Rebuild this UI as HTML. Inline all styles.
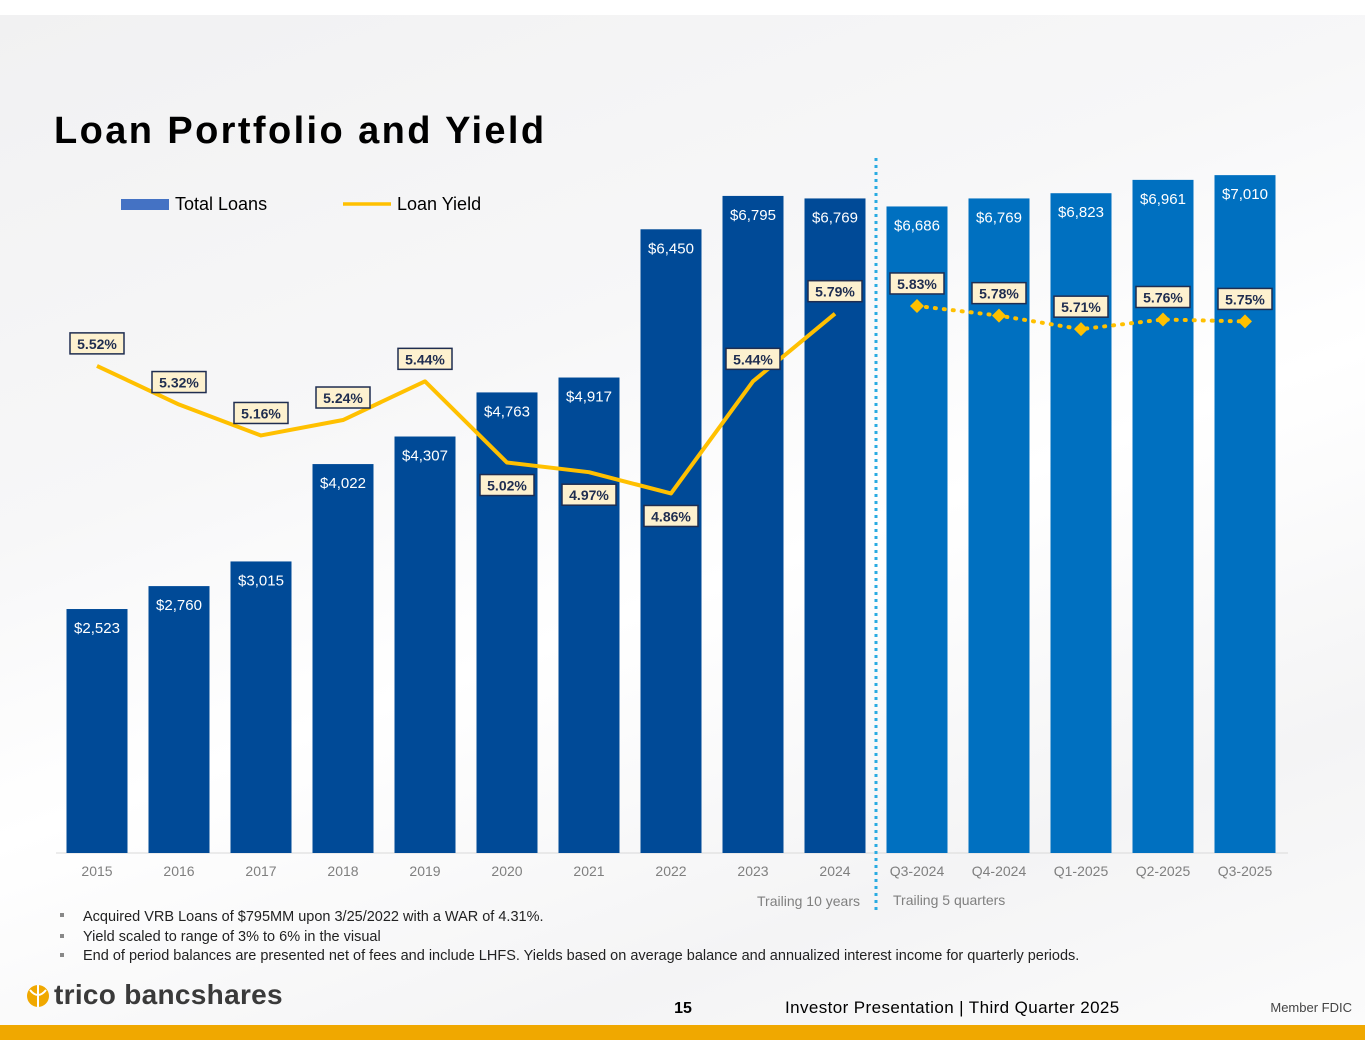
<!DOCTYPE html>
<html><head><meta charset="utf-8"><style>
html,body{margin:0;padding:0}
body{width:1365px;height:1055px;position:relative;overflow:hidden;background:#fff;font-family:"Liberation Sans",sans-serif}
#bg{position:absolute;left:0;top:15px;width:1365px;height:1010px;background:linear-gradient(160deg,#f1f1f2 0%,#f7f7f8 35%,#ffffff 55%,#f4f4f5 80%,#fbfbfb 100%)}
</style></head><body>
<div id="bg"></div>
<svg id="chart" width="1365" height="1055" style="position:absolute;left:0;top:0" font-family="Liberation Sans, sans-serif">
<text x="54" y="143" font-size="38" font-weight="bold" fill="#000" letter-spacing="2.4">Loan Portfolio and Yield</text>
<g>
<rect x="121" y="199" width="48" height="11" fill="#4472c4"/>
<text x="175" y="210" font-size="18" fill="#000">Total Loans</text>
<line x1="343" y1="204" x2="391" y2="204" stroke="#ffc000" stroke-width="3.5"/>
<text x="397" y="210" font-size="18" fill="#000">Loan Yield</text>
</g>
<g id="bars"></g><g id="lines"></g><g id="labels"></g>
<line x1="876" y1="158" x2="876" y2="912" stroke="#29abe2" stroke-width="3" stroke-dasharray="3,4"/>
<text x="860" y="906" font-size="14" fill="#7f7f7f" text-anchor="end">Trailing 10 years</text>
<text x="893" y="905" font-size="14" fill="#7f7f7f">Trailing 5 quarters</text>
<g font-size="14.5" fill="#222">
<rect x="60" y="913" width="4" height="4" fill="#888"/><text x="83" y="921">Acquired VRB Loans of $795MM upon 3/25/2022 with a WAR of 4.31%.</text>
<rect x="60" y="934" width="4" height="4" fill="#888"/><text x="83" y="941">Yield scaled to range of 3% to 6% in the visual</text>
<rect x="60" y="953" width="4" height="4" fill="#888"/><text x="83" y="960">End of period balances are presented net of fees and include LHFS. Yields based on average balance and annualized interest income for quarterly periods.</text>
</g>
<g>
<circle cx="38" cy="996" r="11" fill="#f0a800"/><path d="M38 985 L38 1007 M30 990 Q38 1000 46 990" stroke="#fff" stroke-width="2" fill="none"/>
<text x="54" y="1004" font-size="28" font-weight="bold" fill="#3a3a3a" letter-spacing="0.3">trico bancshares</text>
</g>
<text x="683" y="1013" font-size="16" font-weight="bold" fill="#000" text-anchor="middle">15</text>
<text x="785" y="1013" font-size="17" fill="#000" letter-spacing="0.4">Investor Presentation  |  Third Quarter 2025</text>
<text x="1352" y="1012" font-size="13" fill="#444" text-anchor="end">Member FDIC</text>
<rect x="0" y="1025" width="1365" height="15" fill="#f0a800"/>
</svg>
<script>
const categories=["2015","2016","2017","2018","2019","2020","2021","2022","2023","2024","Q3-2024","Q4-2024","Q1-2025","Q2-2025","Q3-2025"];
const loans=[2523,2760,3015,4022,4307,4763,4917,6450,6795,6769,6686,6769,6823,6961,7010];
const yields=[5.52,5.32,5.16,5.24,5.44,5.02,4.97,4.86,5.44,5.79,5.83,5.78,5.71,5.76,5.75];
const loanLabels=["$2,523","$2,760","$3,015","$4,022","$4,307","$4,763","$4,917","$6,450","$6,795","$6,769","$6,686","$6,769","$6,823","$6,961","$7,010"];
const yieldLabels=["5.52%","5.32%","5.16%","5.24%","5.44%","5.02%","4.97%","4.86%","5.44%","5.79%","5.83%","5.78%","5.71%","5.76%","5.75%"];
const labelBelow=[false,false,false,false,false,true,true,true,false,false,false,false,false,false,false];
const NS="http://www.w3.org/2000/svg";
const base=853;
function xPos(i){return 97+i*82;}
function yLoan(v){return base-v*0.0967;}
function yYield(v){return base-(v-3)*193.3;}
function mk(tag,attrs,parent){const e=document.createElementNS(NS,tag);for(const k in attrs)e.setAttribute(k,attrs[k]);parent.appendChild(e);return e;}
const gB=document.getElementById('bars'),gL=document.getElementById('lines'),gT=document.getElementById('labels');
mk('line',{x1:56,y1:base,x2:1288,y2:base,stroke:'#d9d9d9','stroke-width':1},gB);
categories.forEach((c,i)=>{
 const q=i>=10;const x=xPos(i),y=yLoan(loans[i]);
 const r=mk('rect',{x:x-30.5,y:y,width:61,height:base-y,fill:q?'#0070c0':'#004a97'},gB);
 
 
 const t=mk('text',{x:x,y:y+24,'font-size':15,fill:'#fff','text-anchor':'middle'},gB);t.textContent=loanLabels[i];
 
 
 const a=mk('text',{x:x,y:876,'font-size':14,fill:'#7f7f7f','text-anchor':'middle'},gB);a.textContent=c;
 
 
});
const annual=[],quarter=[];
yields.forEach((v,i)=>{(i<10?annual:quarter).push(xPos(i)+','+yYield(v));});
const p1=mk('polyline',{points:annual.join(' '),fill:'none',stroke:'#ffc000','stroke-width':4,'stroke-linejoin':'round'},gL);


const p2=mk('polyline',{points:quarter.join(' '),fill:'none',stroke:'#ffc000','stroke-width':4,'stroke-dasharray':'1,8','stroke-linecap':'round'},gL);


yields.forEach((v,i)=>{
 const x=xPos(i),y=yYield(v);
 if(i>=10){const d=mk('polygon',{points:`${x},${y-7} ${x+7},${y} ${x},${y+7} ${x-7},${y}`,fill:'#ffc000'},gL);
  
  }
 const by=labelBelow[i]?y+12:y-33;
 const g=mk('g',{},gT);
 
 
 mk('rect',{x:x-27,y:by,width:54,height:21,fill:'#fdf1cf',stroke:'#1f2d50','stroke-width':1.5},g);
 const t=mk('text',{x:x,y:by+16,'font-size':14,'font-weight':'bold',fill:'#1f2d50','text-anchor':'middle'},g);t.textContent=yieldLabels[i];
});
</script>
</body></html>
